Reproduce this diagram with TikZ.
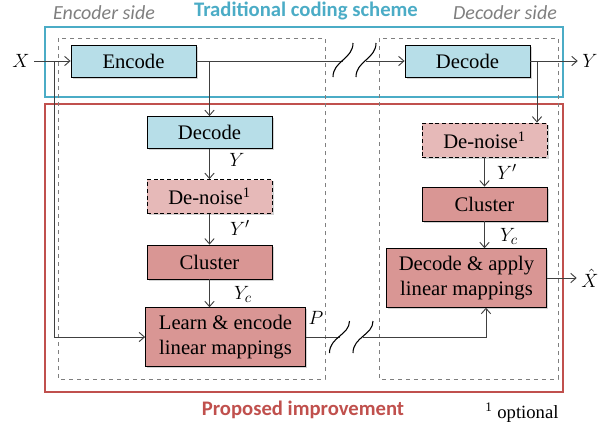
\documentclass[tikz,border=0pt]{standalone}
\usepackage{amsmath}
\usepackage{fontspec}
\setmainfont{Liberation Serif}
\newfontfamily\calibri{Carlito}
\usetikzlibrary{arrows.meta,shadows}

\definecolor{cyanframe}{RGB}{75,172,198}
\definecolor{redframe}{RGB}{192,80,77}
\definecolor{bluefill}{RGB}{183,222,232}
\definecolor{redfill}{RGB}{217,150,148}
\definecolor{optfill}{RGB}{230,185,184}
\definecolor{sidegray}{RGB}{127,127,127}
\definecolor{darkline}{RGB}{64,64,64}

\tikzset{
  box/.style={draw=black, line width=0.6pt, align=center, inner sep=0pt,
    drop shadow={shadow xshift=1.2pt, shadow yshift=-1.2pt, opacity=0.35},
    font=\fontsize{15.5}{18.75}\selectfont},
  bluebox/.style={box, fill=bluefill, minimum width=93.75pt, minimum height=24pt},
  redbox/.style={box, fill=redfill, minimum width=93.75pt, minimum height=25.5pt},
  optbox/.style={box, fill=optfill, densely dashed, minimum width=93.75pt, minimum height=25.5pt},
  bigbox/.style={box, fill=redfill, minimum width=120pt, minimum height=44pt},
  wire/.style={draw=darkline, line width=0.7pt},
  conn/.style={wire, -{Straight Barb[length=4pt,width=7pt]}},
  brk/.style={draw=black, line width=0.8pt},
  lbl/.style={font=\fontsize{15}{18}\selectfont},
  sidelbl/.style={font=\calibri\itshape\fontsize{15}{18}\selectfont, text=sidegray},
}

\begin{document}
\begin{tikzpicture}[x=0.75pt,y=0.75pt,yscale=-1,xscale=1]
\useasboundingbox (0,0) rectangle (603,425);

% Frames
\draw [cyanframe, line width=1.9pt] (45,27) rectangle (563,97);
\draw [redframe, line width=1.9pt] (45,104) rectangle (563,392);
\draw [sidegray, dashed, line width=0.6pt] (58,38) rectangle (325,379);
\draw [sidegray, dashed, line width=0.6pt] (379,38) rectangle (558,379);

% Titles
\node [sidelbl] (encside) at (104,13) {Encoder side};
\node [sidelbl] (decside) at (505,13) {Decoder side};
\node [font=\calibri\bfseries\fontsize{15.5}{18}\selectfont, text=cyanframe] (tradtitle) at (306,11) {Traditional coding scheme};
\node [font=\calibri\bfseries\fontsize{15.5}{18}\selectfont, text=redframe] (proptitle) at (303,410) {Proposed improvement};
\node [font=\fontsize{14}{16}\selectfont] (optnote) at (522,413) {\textsuperscript{1} optional};

% Blocks, encoder side
\node [bluebox] (enc) at (133.5,61) {Encode};
\node [bluebox] (encdec) at (209.5,132.5) {Decode};
\node [optbox] (encdn) at (209.5,196.5) {De-noise\textsuperscript{1}};
\node [redbox] (encclu) at (209.5,262) {Cluster};
\node [bigbox] (learn) at (225.5,337) {Learn \& encode\\linear mappings};

% Blocks, decoder side
\node [bluebox] (dec) at (467.5,61) {Decode};
\node [optbox] (decdn) at (484.5,140) {De-noise\textsuperscript{1}};
\node [redbox] (decclu) at (484.5,204) {Cluster};
\node [bigbox] (apply) at (466.5,278) {Decode \& apply\\linear mappings};

% Inputs and outputs
\node [lbl] (X) at (21,61) {$X$};
\node [lbl] (Y) at (590,61) {$Y$};
\node [lbl] (Xh) at (590,278) {$\hat{X}$};

% Branch points and breaks
\coordinate (xsplit) at (54,61);
\coordinate (encsplit) at (209.5,61);
\coordinate (decsplit) at (537,61);
\coordinate (brkA) at (343,61);
\coordinate (brkB) at (366,61);
\coordinate (brkC) at (339.5,337);
\coordinate (brkD) at (363,337);
\coordinate (applyin) at (486,337);

% Traditional path
\draw [conn] (X) -- (enc);
\draw [wire] (enc) -- (brkA);
\draw [conn] (brkB) -- (dec);
\draw [conn] (dec) -- (Y);

% Encoder side path
\draw [conn] (xsplit) |- (learn.west);
\draw [conn] (encsplit) -- (encdec);
\draw [conn] (encdec) -- (encdn);
\draw [conn] (encdn) -- (encclu);
\draw [conn] (encclu.south) -- (encclu.south |- learn.north);
\draw [wire] (learn) -- (brkC);

% Decoder side path
\draw [conn] (decsplit) -- (decsplit |- decdn.north);
\draw [conn] (decdn) -- (decclu);
\draw [conn] (decclu.south) -- (decclu.south |- apply.north);
\draw [conn] (brkD) -- (applyin) -- (applyin |- apply.south);
\draw [conn] (apply) -- (Xh);

%Curve Lines (breaks)
\draw [brk] (333,77) .. controls (333,61) and (353,59) .. (353,43);
\draw [brk] (356,77) .. controls (356,61) and (376,59) .. (376,43);
\draw [brk] (329.5,353) .. controls (329.5,337) and (349.5,335) .. (349.5,321);
\draw [brk] (353,353) .. controls (353,337) and (373,335) .. (373,321);

% Signal labels
\node [lbl] (lY) at (237,160) {$Y$};
\node [lbl] (lYp) at (240,228) {$Y'$};
\node [lbl] (lYc) at (243,294) {$Y_c$};
\node [lbl] (lP) at (316,318) {$P$};
\node [lbl] (rYp) at (507,172) {$Y'$};
\node [lbl] (rYc) at (509,236) {$Y_c$};

\end{tikzpicture}
\end{document}
